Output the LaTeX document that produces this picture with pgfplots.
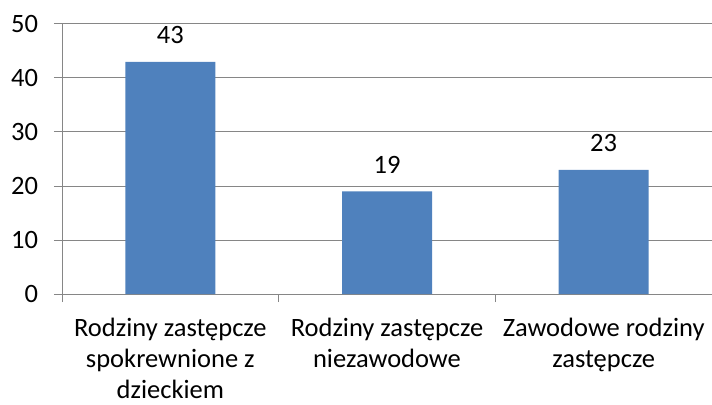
\documentclass[border=0pt]{standalone}
\usepackage{pgfplots}
\pgfplotsset{compat=1.18}
\usepackage{fontspec}
\setmainfont{Carlito}
\definecolor{barblue}{HTML}{4F81BD}
\definecolor{gridgray}{HTML}{868686}
\pgfplotsset{/pgf/number format/assume math mode=true}
\begin{document}
\fontsize{26.5bp}{31bp}\selectfont
\begin{tikzpicture}
\useasboundingbox (-62bp,-111bp) rectangle (650bp,294bp);
\begin{axis}[
    at={(0,0)}, anchor=south west,
    scale only axis,
    width=650bp, height=270bp,
    xmin=-0.5, xmax=2.5,
    ymin=0, ymax=50,
    axis lines=left,
    axis line style={-, draw=gridgray, line width=1bp},
    ymajorgrids,
    grid style={draw=gridgray, line width=1bp},
    ytick={0,10,...,50},
    xtick={-0.5,0.5,1.5,2.5},
    x tick label as interval,
    xticklabels={{Rodziny zastępcze\\spokrewnione z\\dzieckiem},
                 {Rodziny zastępcze\\niezawodowe},
                 {Zawodowe rodziny\\zastępcze}},
    tick style={draw=gridgray, line width=1bp},
    major tick length=8bp,
    tick align=outside,
    tick label style={font=\fontsize{26.5bp}{31bp}\selectfont, text=black},
    x tick label style={align=center, yshift=-7bp},
    y tick label style={xshift=-7bp},
    ybar,
    bar width=90bp,
    nodes near coords,
    nodes near coords style={font=\fontsize{26.5bp}{31bp}\selectfont, text=black, yshift=9bp},
]
\addplot[fill=barblue, draw=none] coordinates {
    (0, 43)
    (1, 19)
    (2, 23)
};
\end{axis}
\end{tikzpicture}
\end{document}
